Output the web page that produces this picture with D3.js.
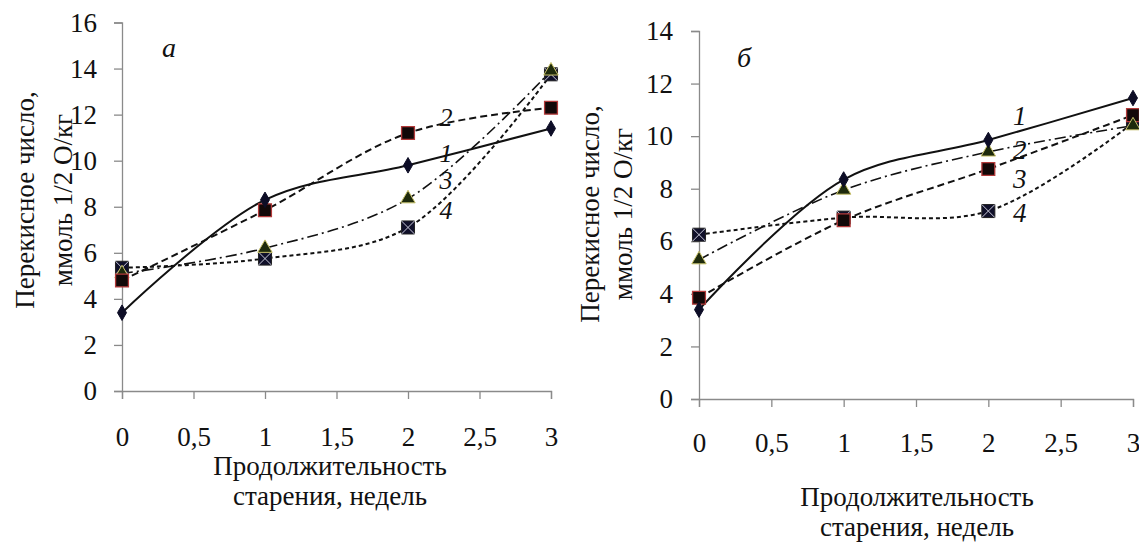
<!DOCTYPE html>
<html>
<head>
<meta charset="utf-8">
<script src="https://cdn.jsdelivr.net/npm/d3@7"></script>
<style>
  html, body { margin: 0; padding: 0; background: #fff; }
  svg { display: block; }
</style>
</head>
<body>
<svg id="chart" width="1139" height="544"></svg>
<script>
// ---------- data ----------
const weeks = [0, 1, 2, 3];
const xTicks = [0, 0.5, 1, 1.5, 2, 2.5, 3];

// panel "а"
const aSeries1 = [3.4, 8.3, 9.8, 11.4];     // solid, diamond
const aSeries2 = [4.8, 7.85, 11.2, 12.3];   // dashed, red square
const aSeries3 = [5.1, 6.2, 8.35, 13.9];    // dash-dot, triangle
const aSeries4 = [5.35, 5.75, 7.1, 13.75];  // short dash, crossed square
const aYTicks = [0, 2, 4, 6, 8, 10, 12, 14, 16];
const aLabels = ["1", "2", "3", "4"];
const aLabelX = [2.22, 2.22, 2.22, 2.22];
const aLabelY = [10.35, 11.9, 9.15, 7.85];

// panel "б"
const bSeries1 = [3.4, 8.35, 9.85, 11.45];  // solid, diamond
const bSeries2 = [5.3, 7.95, 9.4, 10.4];    // dash-dot, triangle
const bSeries3 = [3.85, 6.8, 8.75, 10.8];   // dashed, red square
const bSeries4 = [6.25, 6.9, 7.15, 10.5];   // short dash, crossed square
const bYTicks = [0, 2, 4, 6, 8, 10, 12, 14];
const bLabels = ["1", "2", "3", "4"];
const bLabelX = [2.17, 2.17, 2.17, 2.17];
const bLabelY = [10.8, 9.5, 8.4, 7.1];

const yTitle1 = "Перекисное число,";
const yTitle2 = "ммоль 1/2 О/кг";
const xTitle1 = "Продолжительность";
const xTitle2 = "старения, недель";

// ---------- styles ----------
const FONT = '"Liberation Serif"';
const styles = {
  solid:  { dash: null,        width: 2,   marker: "diamond" },
  dashed: { dash: "7,4",       width: 2,   marker: "redsquare" },
  dashdot:{ dash: "11,4,2,4",  width: 1.6, marker: "triangle" },
  short:  { dash: "4,3",       width: 2,   marker: "xsquare" }
};

const svg = d3.select("#chart");

function txt(sel, size, italic) {
  return sel.style("font-family", FONT).style("font-size", size + "px")
    .style("font-style", italic ? "italic" : "normal").style("fill", "#111");
}

function drawPanel(cfg) {
  const x = d3.scaleLinear().domain([0, 3]).range([cfg.left, cfg.right]);
  const y = d3.scaleLinear().domain([0, cfg.yMax]).range([cfg.bottom, cfg.top]);
  const g = svg.append("g");

  // axes
  const yAxis = d3.axisLeft(y).tickValues(cfg.yTicks).tickSize(8).tickPadding(cfg.yPad)
    .tickFormat(d => String(d));
  const gy = g.append("g").attr("transform", `translate(${cfg.left},0)`).call(yAxis);
  const xAxis = d3.axisBottom(x).tickValues(xTicks).tickSize(8).tickPadding(cfg.xPad)
    .tickFormat(d => String(d).replace(".", ","));
  const gx = g.append("g").attr("transform", `translate(0,${cfg.bottom})`).call(xAxis);
  [gx, gy].forEach(ax => {
    ax.attr("font-family", null).attr("font-size", null);
    ax.select(".domain").attr("stroke", "#8a8a8a").attr("stroke-width", 1.3);
    ax.selectAll(".tick line").attr("stroke", "#8a8a8a").attr("stroke-width", 1.3);
    txt(ax.selectAll(".tick text"), cfg.tickFont, false);
  });

  // lines
  const line = d3.line().x((d, i) => x(weeks[i])).y(d => y(d))
    .curve(d3.curveCatmullRom.alpha(0.5));
  cfg.series.forEach(s => {
    const st = styles[s.style];
    g.append("path").datum(s.values).attr("d", line)
      .attr("fill", "none").attr("stroke", "#111")
      .attr("stroke-width", st.width)
      .attr("stroke-dasharray", st.dash);
  });

  // markers
  cfg.series.forEach(s => {
    const st = styles[s.style];
    s.values.forEach((v, i) => {
      const cx = x(weeks[i]), cy = y(v);
      const mg = g.append("g").attr("transform", `translate(${cx},${cy})`);
      if (st.marker === "diamond") {
        mg.append("path").attr("d", d3.symbol(d3.symbolDiamond, 70)())
          .attr("fill", "#0d0d26").attr("stroke", "#0d0d26");
      } else if (st.marker === "redsquare") {
        mg.append("path").attr("d", d3.symbol(d3.symbolSquare, 165)())
          .attr("fill", "#120808").attr("stroke", "#b23a3a").attr("stroke-width", 1.3);
      } else if (st.marker === "triangle") {
        mg.append("path").attr("d", d3.symbol(d3.symbolTriangle, 90)())
          .attr("fill", "#1e2a0c").attr("stroke", "#c9c26a").attr("stroke-width", 1);
      } else {
        const h = 6.5;
        mg.append("path").attr("d", d3.symbol(d3.symbolSquare, 170)())
          .attr("fill", "#10102a").attr("stroke", "#222").attr("stroke-width", 1);
        mg.append("path").attr("d", `M${-h},${-h}L${h},${h}M${-h},${h}L${h},${-h}`)
          .attr("stroke", "#c8c8d8").attr("stroke-width", 1);
      }
    });
  });

  // curve number labels
  cfg.labels.forEach((t, i) => {
    txt(g.append("text").attr("x", x(cfg.labelX[i])).attr("y", y(cfg.labelY[i]))
      .attr("dy", "0.35em"), cfg.numFont, true).text(t);
  });

  // panel letter
  txt(g.append("text").attr("x", cfg.letterX).attr("y", cfg.letterY)
    .attr("dy", "0.35em"), cfg.letterFont, true).text(cfg.letter);

  // y title
  txt(g.append("text").attr("text-anchor", "middle")
    .attr("transform", `translate(${cfg.yTitleX1},${cfg.yTitleY}) rotate(-90)`),
    cfg.titleFont, false).text(yTitle1);
  txt(g.append("text").attr("text-anchor", "middle")
    .attr("transform", `translate(${cfg.yTitleX2},${cfg.yTitleY}) rotate(-90)`),
    cfg.titleFont, false).text(yTitle2);

  // x title
  txt(g.append("text").attr("text-anchor", "middle")
    .attr("x", cfg.xTitleX).attr("y", cfg.xTitleY1), cfg.titleFont, false).text(xTitle1);
  txt(g.append("text").attr("text-anchor", "middle")
    .attr("x", cfg.xTitleX).attr("y", cfg.xTitleY2), cfg.titleFont, false).text(xTitle2);
}

drawPanel({
  left: 122, right: 551, top: 22.5, bottom: 391, yMax: 16,
  yTicks: aYTicks, yPad: 17, xPad: 28, tickFont: 27,
  series: [
    { values: aSeries4, style: "short" },
    { values: aSeries3, style: "dashdot" },
    { values: aSeries2, style: "dashed" },
    { values: aSeries1, style: "solid" }
  ],
  labels: aLabels, labelX: aLabelX, labelY: aLabelY, numFont: 26,
  letter: "а", letterX: 162, letterY: 47, letterFont: 28,
  titleFont: 27, yTitleX1: 34, yTitleX2: 72, yTitleY: 200,
  xTitleX: 330, xTitleY1: 475, xTitleY2: 505
});

drawPanel({
  left: 699, right: 1133, top: 31, bottom: 399, yMax: 14,
  yTicks: bYTicks, yPad: 18, xPad: 26, tickFont: 27,
  series: [
    { values: bSeries4, style: "short" },
    { values: bSeries3, style: "dashed" },
    { values: bSeries2, style: "dashdot" },
    { values: bSeries1, style: "solid" }
  ],
  labels: bLabels, labelX: bLabelX, labelY: bLabelY, numFont: 27,
  letter: "б", letterX: 737, letterY: 57, letterFont: 28,
  titleFont: 27, yTitleX1: 599, yTitleX2: 632, yTitleY: 214,
  xTitleX: 917, xTitleY1: 506, xTitleY2: 536
});
</script>
</body>
</html>
